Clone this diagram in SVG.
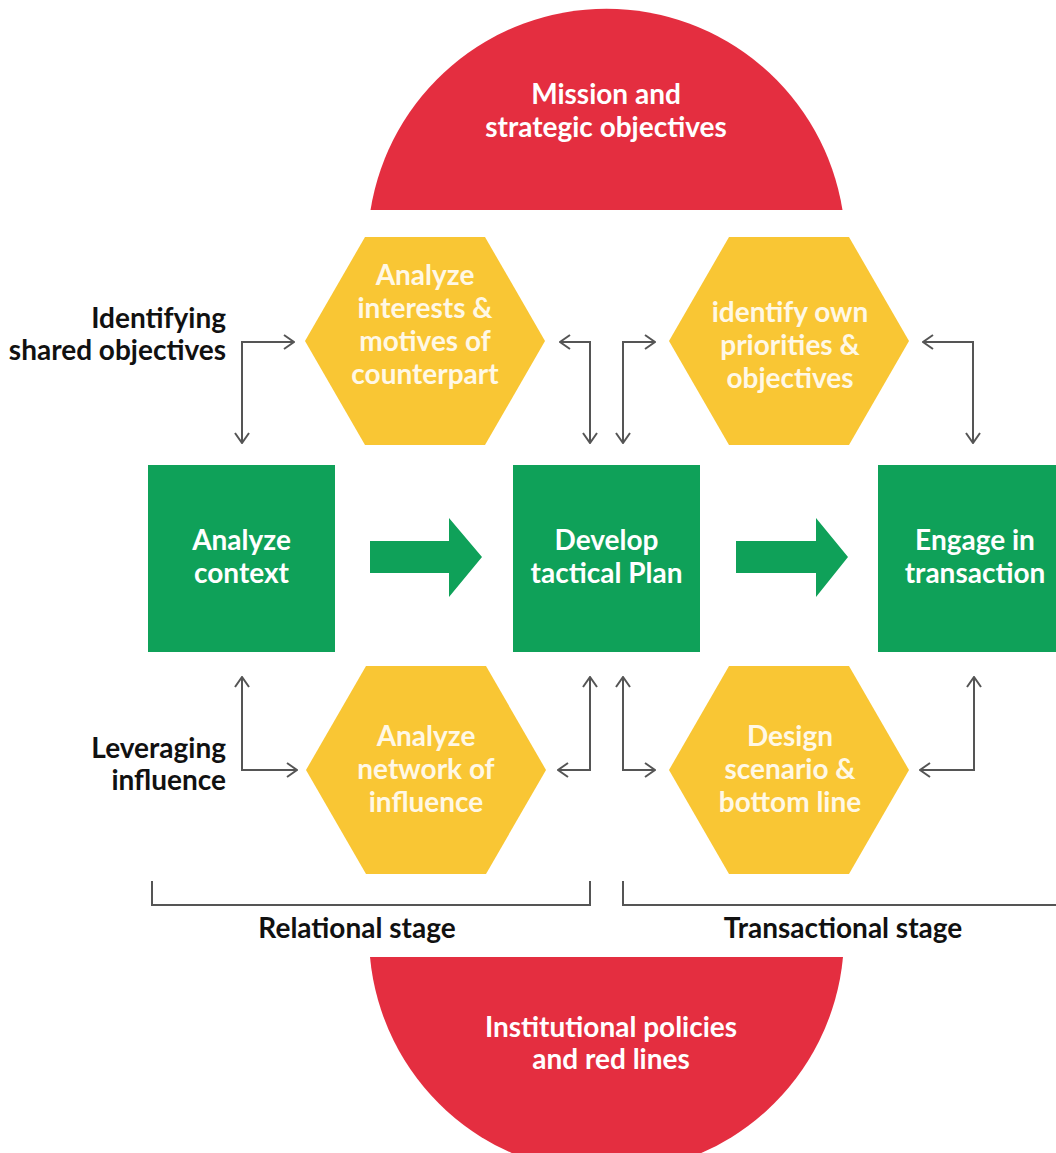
<svg xmlns="http://www.w3.org/2000/svg" width="1056" height="1153" viewBox="0 0 1056 1153">
  <style>
    .red { fill: #e42e40; }
    .hex { fill: #f9c634; }
    .box { fill: #0fa159; }
    .flow { fill: #0fa159; }
    .lbl { font-family: Lato, "Open Sans", "Liberation Sans", sans-serif; font-weight: 700; font-size: 28px; }
    .wt { fill: #ffffff; text-anchor: middle; }
    .hx { fill: #fff8e6; text-anchor: middle; }
    .bk { fill: #111111; }
    .link { fill: none; stroke: #555555; stroke-width: 2; }
  </style>
  <defs>
    <marker id="chev" viewBox="0 0 12 16" refX="11" refY="8" markerWidth="12" markerHeight="16" markerUnits="userSpaceOnUse" orient="auto-start-reverse">
      <path d="M1,1 L11,8 L1,15" fill="none" stroke="#555555" stroke-width="2"/>
    </marker>
  </defs>
  <rect width="1056" height="1153" fill="#ffffff"/>

  <!-- red segments: goals above, limits below -->
  <g id="mission">
    <path class="red" d="M370.5,210 A239,239 0 0 1 842.5,210 Z"/>
    <text class="lbl wt" x="606" y="104">Mission and</text>
    <text class="lbl wt" x="606" y="137">strategic objectives</text>
  </g>
  <g id="policies">
    <path class="red" d="M370,957 A237.5,237.5 0 0 0 843,957 Z"/>
    <text class="lbl wt" x="611" y="1037">Institutional policies</text>
    <text class="lbl wt" x="611" y="1069">and red lines</text>
  </g>

  <!-- hexagons -->
  <g id="interests">
    <polygon class="hex" points="305,341 365,237 485,237 545,341 485,445 365,445"/>
    <text class="lbl hx" x="425" y="285">Analyze</text>
    <text class="lbl hx" x="425" y="318">interests &amp;</text>
    <text class="lbl hx" x="425" y="351">motives of</text>
    <text class="lbl hx" x="425" y="384">counterpart</text>
  </g>
  <g id="priorities">
    <polygon class="hex" points="669,341 729,237 849,237 909,341 849,445 729,445"/>
    <text class="lbl hx" x="790" y="322">identify own</text>
    <text class="lbl hx" x="790" y="355">priorities &amp;</text>
    <text class="lbl hx" x="790" y="388">objectives</text>
  </g>
  <g id="network">
    <polygon class="hex" points="306,770 366,666 486,666 546,770 486,874 366,874"/>
    <text class="lbl hx" x="426" y="746">Analyze</text>
    <text class="lbl hx" x="426" y="779">network of</text>
    <text class="lbl hx" x="426" y="812">influence</text>
  </g>
  <g id="scenario">
    <polygon class="hex" points="669,770 729,666 849,666 909,770 849,874 729,874"/>
    <text class="lbl hx" x="790" y="746">Design</text>
    <text class="lbl hx" x="790" y="779">scenario &amp;</text>
    <text class="lbl hx" x="790" y="812">bottom line</text>
  </g>

  <!-- main process boxes -->
  <g id="context">
    <rect class="box" x="148" y="465" width="187" height="187"/>
    <text class="lbl wt" x="241.5" y="550">Analyze</text>
    <text class="lbl wt" x="241.5" y="583">context</text>
  </g>
  <g id="plan">
    <rect class="box" x="513" y="465" width="187" height="187"/>
    <text class="lbl wt" x="606.5" y="550">Develop</text>
    <text class="lbl wt" x="606.5" y="583">tactical Plan</text>
  </g>
  <g id="transaction">
    <rect class="box" x="878" y="465" width="187" height="187"/>
    <text class="lbl wt" x="975" y="550">Engage in</text>
    <text class="lbl wt" x="975" y="583">transaction</text>
  </g>

  <!-- side and stage labels -->
  <g id="shared-label">
    <text class="lbl bk" x="226" y="328" text-anchor="end">Identifying</text>
    <text class="lbl bk" x="226" y="360" text-anchor="end">shared objectives</text>
  </g>
  <g id="leverage-label">
    <text class="lbl bk" x="226" y="758" text-anchor="end">Leveraging</text>
    <text class="lbl bk" x="226" y="790" text-anchor="end">influence</text>
  </g>
  <g id="relational">
    <path class="link" d="M152,881 V905 H590 V881"/>
    <text class="lbl bk" x="357" y="938" text-anchor="middle">Relational stage</text>
  </g>
  <g id="transactional">
    <path class="link" d="M623,881 V905 H1060"/>
    <text class="lbl bk" x="843" y="938" text-anchor="middle">Transactional stage</text>
  </g>

  <!-- connectors -->
  <g id="connectors">
    <polygon class="flow" points="370,541 449,541 449,518 482,557 449,597 449,573 370,573"/>
    <polygon class="flow" points="736,541 816,541 816,518 848,557 816,597 816,573 736,573"/>
    <path class="link" d="M242,443 V342 H294" marker-start="url(#chev)" marker-end="url(#chev)"/>
    <path class="link" d="M590,443 V342 H560" marker-start="url(#chev)" marker-end="url(#chev)"/>
    <path class="link" d="M623,443 V342 H655" marker-start="url(#chev)" marker-end="url(#chev)"/>
    <path class="link" d="M973,443 V342 H923" marker-start="url(#chev)" marker-end="url(#chev)"/>
    <path class="link" d="M242,677 V770 H297" marker-start="url(#chev)" marker-end="url(#chev)"/>
    <path class="link" d="M590,677 V770 H558" marker-start="url(#chev)" marker-end="url(#chev)"/>
    <path class="link" d="M623,677 V770 H655" marker-start="url(#chev)" marker-end="url(#chev)"/>
    <path class="link" d="M974,677 V770 H920" marker-start="url(#chev)" marker-end="url(#chev)"/>
  </g>
</svg>
